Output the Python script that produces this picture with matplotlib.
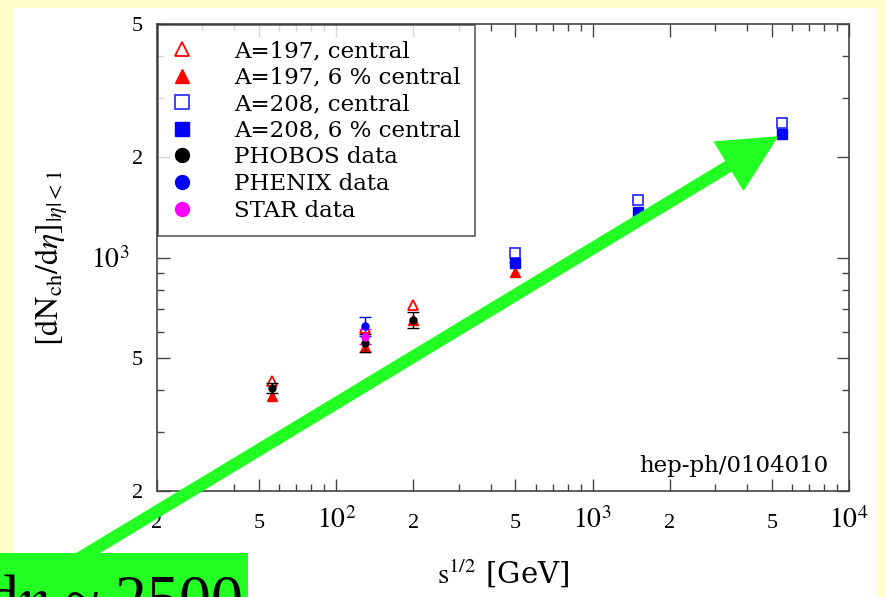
import matplotlib
matplotlib.use("Agg")
import matplotlib.pyplot as plt
from matplotlib.patches import Rectangle, FancyArrow
from matplotlib.transforms import IdentityTransform
from matplotlib.ticker import LogLocator, NullFormatter
import numpy as np

plt.rcParams['font.family'] = ['Liberation Serif', 'DejaVu Serif']
plt.rcParams['mathtext.fontset'] = 'stix'

# ---- data ----
rhic_energies = [56, 130, 200, 500]
a197_central = [428, 617, 723, 1000]
a197_6pc = [386, 540, 652, 905]
lhc_energies = [500, 1500, 5500]
a208_central = [1035, 1490, 2520]
a208_6pc = [960, 1370, 2350]
phobos_x = [56, 130, 200]
phobos_y = [408, 555, 650]
phobos_err = [14, 35, 35]
phenix_x = [130]
phenix_y = [622]
phenix_err = [41]
star_x = [130]
star_y = [580]
star_err = [30]

xticks_pos = [20, 50, 100, 200, 500, 1000, 2000, 5000, 10000]
xticks_lab = ['2', '5', r'$10^2$', '2', '5', r'$10^3$', '2', '5', r'$10^4$']
yticks_pos = [200, 500, 1000, 2000, 5000]
yticks_lab = ['2', '5', r'$10^3$', '2', '5']

W, H = 885, 597
fig = plt.figure(figsize=(W/100, H/100), dpi=100)
fig.patch.set_facecolor('#FFFFCC')
fig.patches.append(Rectangle((14/W, 0), (877-14)/W, (597-8)/H, transform=fig.transFigure,
                             facecolor='white', edgecolor='none', zorder=-5))

ax = fig.add_axes([157/W, 1-491/H, (849-157)/W, (491-24)/H])
ax.set_facecolor('white')
ax.set_xscale('log')
ax.set_yscale('log')
ax.set_xlim(20, 10000)
ax.set_ylim(200, 5000)

red = '#FF0000'
blue = '#0000FF'
h1, = ax.plot(rhic_energies, a197_central, ls='none', marker='^', ms=7, mfc='white', mec=red, mew=1.3, zorder=4)
h2, = ax.plot(rhic_energies, a197_6pc, ls='none', marker='^', ms=7, color=red, zorder=4)
h3, = ax.plot(lhc_energies, a208_central, ls='none', marker='s', ms=7, mfc='white', mec='#3333FF', mew=1.3, zorder=4)
h4, = ax.plot(lhc_energies, a208_6pc, ls='none', marker='s', ms=7, color=blue, zorder=4)
e1 = ax.errorbar(phobos_x, phobos_y, yerr=phobos_err, fmt='o', ms=5, color='black', capsize=4, elinewidth=1, zorder=5)
e2 = ax.errorbar(phenix_x, phenix_y, yerr=phenix_err, fmt='o', ms=5, color=blue, capsize=4, elinewidth=1, zorder=5)
e3 = ax.errorbar(star_x, star_y, yerr=star_err, fmt='o', ms=5, color='#FF00FF', capsize=4, elinewidth=1, zorder=5)

ax.set_xticks(xticks_pos, xticks_lab)
ax.set_yticks(yticks_pos, yticks_lab)
ax.xaxis.set_minor_locator(LogLocator(base=10, subs=np.arange(2, 10)))
ax.xaxis.set_minor_formatter(NullFormatter())
ax.yaxis.set_minor_locator(LogLocator(base=10, subs=np.arange(2, 10)))
ax.yaxis.set_minor_formatter(NullFormatter())
ax.tick_params(which='both', direction='in', top=True, right=True, colors='#444444', labelcolor='black')
ax.tick_params(which='major', length=9, width=1)
ax.tick_params(which='minor', length=5, width=1)

for tick, lab in zip(ax.xaxis.get_major_ticks(), xticks_lab):
    tick.label1.set_verticalalignment('baseline')
    tick.set_pad(27)
    tick.label1.set_fontsize(20 if '10' in lab else 16)
for tick, lab in zip(ax.yaxis.get_major_ticks(), yticks_lab):
    big = '10' in lab
    tick.label1.set_fontsize(20 if big else 16)
    tick.set_pad(20 if big else 10)

for s in ax.spines.values():
    s.set_color('#444444')
    s.set_linewidth(1.2)

ax.set_xlabel(r'$\mathrm{s}^{1/2}$ [GeV]', fontsize=21, family=['DejaVu Serif'], labelpad=17)
ax.set_ylabel(r'$[\mathrm{dN_{ch}/d}\eta]_{|\eta|<1}$', fontsize=23)
ax.yaxis.set_label_coords(-0.125, 0.5)

ax.text(0.97, 0.03, 'hep-ph/0104010', transform=ax.transAxes, ha='right', va='bottom',
        fontsize=16.5, family=['DejaVu Serif'])

leg = ax.legend([h1, h2, h3, h4, e1[0], e2[0], e3[0]],
                ['A=197, central', 'A=197, 6 % central', 'A=208, central', 'A=208, 6 % central',
                 'PHOBOS data', 'PHENIX data', 'STAR data'],
                loc='upper left', bbox_to_anchor=(0.0, 1.0), borderaxespad=0.05,
                prop={'family': ['DejaVu Serif'], 'size': 16.5},
                frameon=True, fancybox=False, edgecolor='#333333', handlelength=0.75,
                handletextpad=1.9, labelspacing=0.2, borderpad=0.65, numpoints=1)
leg.get_frame().set_linewidth(1.2)
for h in leg.legend_handles:
    h.set_markersize(10)

# green annotation arrow and box (figure pixel coordinates, origin bottom-left)
x0, y0 = 60, H - 570
x1, y1 = 777, H - 137
arr = FancyArrow(x0, y0, x1 - x0, y1 - y0, width=11, head_width=56, head_length=56,
                 length_includes_head=True, transform=IdentityTransform(), color='#22FF22', zorder=10)
fig.patches.append(arr)
fig.patches.append(Rectangle((0, 0), 248/W, (597-553)/H, transform=fig.transFigure,
                             facecolor='#22FF22', edgecolor='none', zorder=11))
fig.text(242/W, -22/H, r'd$\eta$ ~ 2500', ha='right', va='baseline', fontsize=46, zorder=12)

fig.savefig('out.png', dpi=100, facecolor=fig.get_facecolor())
